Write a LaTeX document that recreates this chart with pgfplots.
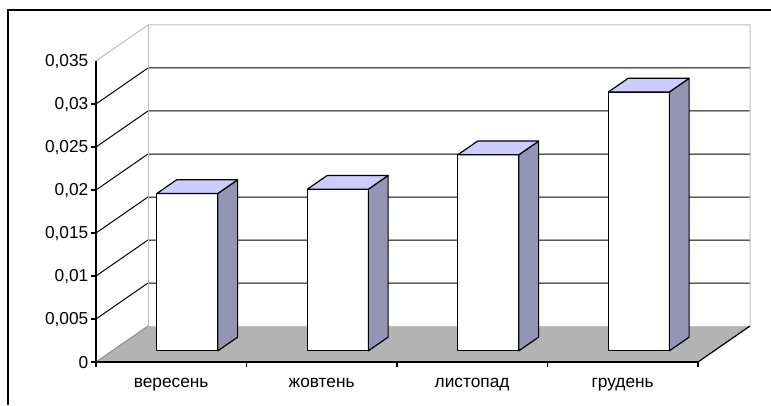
\documentclass[border=0pt]{standalone}
\usepackage{fontspec}
\setmainfont{Liberation Sans}
\usepackage{pgfplots}
\pgfplotsset{compat=1.18}

\definecolor{floorgray}{HTML}{B3B3B3}
\definecolor{sidegray}{HTML}{9494B4}
\definecolor{topblue}{HTML}{CCCCFF}
\definecolor{wallline}{HTML}{BFBFBF}
\definecolor{edgegray}{HTML}{8C8C8C}

% one 3D column: left edge, right edge, value (depth runs from 0.31 to 0.69)
\newcommand{\column}[3]{%
  \addplot3[draw=black, fill=white, line width=1.2pt, line join=round]
    coordinates {(#1,0.31,0) (#2,0.31,0) (#2,0.31,#3) (#1,0.31,#3)} -- cycle;
  \addplot3[draw=black, fill=sidegray, line width=1.2pt, line join=round]
    coordinates {(#2,0.31,0) (#2,0.69,0) (#2,0.69,#3) (#2,0.31,#3)} -- cycle;
  \addplot3[draw=black, fill=topblue, line width=1.2pt, line join=round]
    coordinates {(#1,0.31,#3) (#2,0.31,#3) (#2,0.69,#3) (#1,0.69,#3)} -- cycle;
}
% short horizontal tick on the value axis
\newcommand{\ztickmark}[1]{%
  \addplot3[black, line width=1.2pt] coordinates {(-0.0332,0,#1) (0,0,#1)};
}
% short vertical tick between categories
\newcommand{\xtickmark}[1]{%
  \addplot3[black, line width=1.2pt] coordinates {(#1,0,0) (#1,0,-0.00058)};
}

\begin{document}
\begin{tikzpicture}
\begin{axis}[
  x={(150.5pt,0pt)}, y={(52pt,36pt)}, z={(0pt,8600pt)},
  xmin=0, xmax=4, ymin=0, ymax=1, zmin=0, zmax=0.035,
  clip=false,
  axis on top,
  axis x line*=left, axis z line*=left, axis y line=none,
  axis line style={black, line width=1.2pt},
  tick align=outside,
  major tick length=5pt,
  tick style={draw=none},
  xtick={0.5,1.5,2.5,3.5},
  xticklabels={вересень,жовтень,листопад,грудень},
  ytick=\empty,
  ztick={0,0.005,0.01,0.015,0.02,0.025,0.03,0.035},
  scaled z ticks=false,
  /pgf/number format/assume math mode=true,
  tick label style={font=\fontsize{17.3}{20}\selectfont},
  zticklabel style={anchor=east, yshift=2.5pt,
    /pgf/number format/.cd, use comma, fixed, precision=3},
  xticklabel style={anchor=north, text height=12pt, text depth=4pt, xshift=4pt, yshift=-7pt},
]
  % floor
  \addplot3[draw=none, fill=floorgray] coordinates {(0,0,0) (4,0,0) (4,1,0) (0,1,0)} -- cycle;
  % back wall
  \addplot3[draw=none, fill=white] coordinates {(0,1,0) (4,1,0) (4,1,0.035) (0,1,0.035)} -- cycle;
  % gridlines on the side wall and the back wall
  \addplot3[black, line width=1pt] coordinates {(0,0,0.005) (0,1,0.005) (4,1,0.005)};
  \addplot3[black, line width=1pt] coordinates {(0,0,0.01) (0,1,0.01) (4,1,0.01)};
  \addplot3[black, line width=1pt] coordinates {(0,0,0.015) (0,1,0.015) (4,1,0.015)};
  \addplot3[black, line width=1pt] coordinates {(0,0,0.02) (0,1,0.02) (4,1,0.02)};
  \addplot3[black, line width=1pt] coordinates {(0,0,0.025) (0,1,0.025) (4,1,0.025)};
  \addplot3[black, line width=1pt] coordinates {(0,0,0.03) (0,1,0.03) (4,1,0.03)};
  % wall borders
  \addplot3[wallline, line width=1pt] coordinates {(0,0,0.035) (0,1,0.035) (4,1,0.035) (4,1,0)};
  \addplot3[wallline, line width=1pt] coordinates {(0,1,0.035) (0,1,0) (4,1,0)};
  % floor edges
  \addplot3[edgegray, line width=1pt] coordinates {(0,0,0) (0,1,0)};
  \addplot3[black, line width=1.2pt] coordinates {(4,0,0) (4,1,0)};
  % ticks
  \ztickmark{0}\ztickmark{0.005}\ztickmark{0.01}\ztickmark{0.015}
  \ztickmark{0.02}\ztickmark{0.025}\ztickmark{0.03}
  \xtickmark{0}\xtickmark{1}\xtickmark{2}\xtickmark{3}\xtickmark{4}
  % columns
  \column{0.2975}{0.7025}{0.0183}
  \column{1.2975}{1.7025}{0.0188}
  \column{2.2975}{2.7025}{0.0228}
  \column{3.2975}{3.7025}{0.0301}
  \coordinate (O) at (axis cs:0,0,0);
\end{axis}
\pgfresetboundingbox
\path[use as bounding box] (O) ++(-96pt,-43pt) rectangle ++(771pt,405pt);
\draw[black, line width=1.3pt] (O) ++(-88pt,-43pt) -- ++(0pt,395pt) -- ++(763pt,0pt);
\end{tikzpicture}
\end{document}
